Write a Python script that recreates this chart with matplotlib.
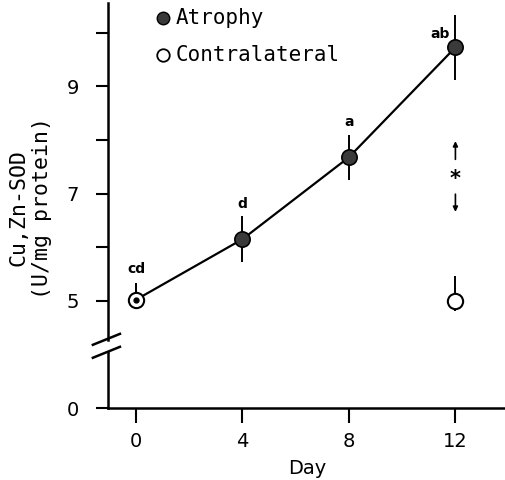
import matplotlib
matplotlib.use('Agg')
import matplotlib.pyplot as plt
import numpy as np

# data
days = [0, 4, 8, 12]
atrophy = [5.02, 6.15, 7.68, 9.73]
atrophy_err = [0.32, 0.43, 0.42, 0.60]
contra_days = [0, 12]
contra = [5.02, 5.0]
contra_err = [0.32, 0.47]
sig_labels = ['cd', 'd', 'a', 'ab']

yticks = [0, 5, 6, 7, 8, 9, 10]
yticklabels = ['0', '5', '', '7', '', '9', '']
xticks = [0, 4, 8, 12]


# broken y axis: 0..5 squeezed, above 5 linear
def fwd(v):
    v = np.asarray(v, dtype=float)
    return np.where(v < 5, v * 0.4, v - 3)


def inv(p):
    p = np.asarray(p, dtype=float)
    return np.where(p < 2, p / 0.4, p + 3)


plt.rcParams['font.family'] = 'DejaVu Sans Mono'

fig = plt.figure(figsize=(5.06, 4.8), dpi=100)
ax = fig.add_axes([108 / 506, 0.15, 1 - 108 / 506, 0.844])
ax.set_yscale('function', functions=(fwd, inv))
ax.set_xlim(-1.05, 13.9)
ax.set_ylim(0, 10.56)

k = 'black'
# atrophy line + error bars
ax.errorbar(days, atrophy, yerr=atrophy_err, fmt='none', ecolor=k, elinewidth=1.4, capsize=0, zorder=2)
ax.plot(days, atrophy, '-', color=k, lw=1.6, zorder=3)
ax.plot(days[1:], atrophy[1:], 'o', ms=11, mfc='#3a3a3a', mec=k, mew=1.2, zorder=4)

# contralateral
ax.errorbar(contra_days, contra, yerr=contra_err, fmt='none', ecolor=k, elinewidth=1.4, capsize=0, zorder=2)
ax.plot(contra_days, contra, 'o', ms=11, mfc='white', mec=k, mew=1.5, zorder=5)
# overlap at day 0 shows as a dot
ax.plot(days[0], atrophy[0], 'o', ms=3.5, color=k, zorder=6)

# letters above points
lab_kw = dict(ha='center', va='center', fontsize=10, family='DejaVu Sans', weight='bold')
ax.text(days[0], 5.6, sig_labels[0], **lab_kw)
ax.text(days[1], 6.8, sig_labels[1], **lab_kw)
ax.text(days[2], 8.33, sig_labels[2], **lab_kw)
ax.text(11.43, 9.97, sig_labels[3], **lab_kw)

# significance marker at day 12
ax.annotate('', xy=(12, 7.98), xytext=(12, 7.64),
            arrowprops=dict(arrowstyle='-|>', lw=1.2, color=k, mutation_scale=7, shrinkA=0, shrinkB=0))
ax.annotate('', xy=(12, 6.66), xytext=(12, 6.99),
            arrowprops=dict(arrowstyle='-|>', lw=1.2, color=k, mutation_scale=7, shrinkA=0, shrinkB=0))
ax.text(12, 7.28, '*', ha='center', va='center', fontsize=15, weight='bold', family='DejaVu Sans')

# legend drawn by hand
ax.plot([0.138], [0.963], 'o', ms=9, mfc='#3a3a3a', mec=k, transform=ax.transAxes, clip_on=False)
ax.text(0.17, 0.963, 'Atrophy', transform=ax.transAxes, va='center', fontsize=15)
ax.plot([0.138], [0.872], 'o', ms=9, mfc='white', mec=k, mew=1.3, transform=ax.transAxes, clip_on=False)
ax.text(0.17, 0.872, 'Contralateral', transform=ax.transAxes, va='center', fontsize=15)

# spines
for s in ['top', 'right', 'left']:
    ax.spines[s].set_visible(False)
ax.spines['bottom'].set_linewidth(1.8)
ax.plot([0, 0], [0, 0.138], color=k, lw=1.8, transform=ax.transAxes, clip_on=False)
ax.plot([0, 0], [0.168, 1.0], color=k, lw=1.8, transform=ax.transAxes, clip_on=False)
# break marks
ax.plot([-0.038, 0.03], [0.156, 0.183], color=k, lw=1.8, transform=ax.transAxes, clip_on=False)
ax.plot([-0.038, 0.03], [0.124, 0.151], color=k, lw=1.8, transform=ax.transAxes, clip_on=False)

ax.set_yticks(yticks)
ax.set_yticklabels(yticklabels, family='DejaVu Sans')
ax.yaxis.set_minor_locator(matplotlib.ticker.NullLocator())
ax.set_xticks(xticks)
ax.set_xticklabels([str(d) for d in xticks], family='DejaVu Sans')
ax.tick_params(axis='y', length=9, width=1.5, labelsize=14, pad=12)
ax.tick_params(axis='x', length=11, width=1.5, labelsize=14, pad=6)

ax.set_xlabel('Day', fontsize=14, labelpad=6, family='DejaVu Sans')
fig.text(0.06, 0.567, 'Cu,Zn-SOD\n(U/mg protein)', rotation=90, ha='center', va='center',
         fontsize=15.5, linespacing=1.25, multialignment='center')

fig.savefig('out.png', dpi=100)
